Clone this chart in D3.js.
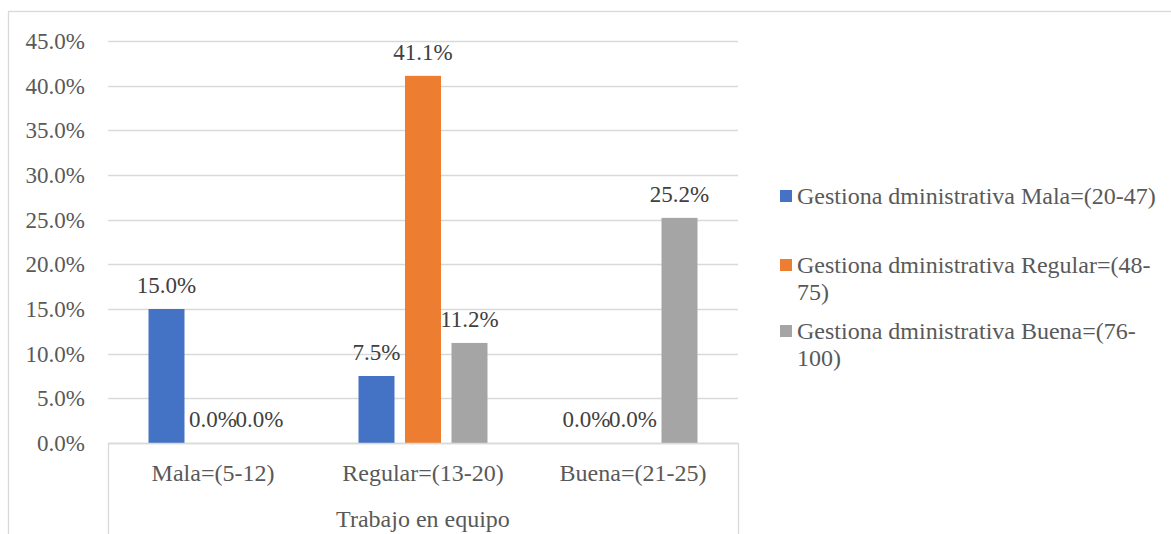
<!DOCTYPE html>
<html>
<head>
<meta charset="utf-8">
<style>
  body { margin: 0; background: #fff; }
  text { font-family: "Liberation Serif", "Times New Roman", serif; }
  .grid line { stroke: #d9d9d9; stroke-width: 1.3px; }
  .tick-label { fill: #595959; font-size: 23px; }
  .cat-label { fill: #595959; font-size: 24px; }
  .bar-label { fill: #404040; font-size: 23px; }
  .legend-text { fill: #595959; font-size: 24px; }
</style>
</head>
<body>
<svg width="1171" height="534"></svg>
<script src="https://d3js.org/d3.v7.min.js"></script>
<script>
// data
var categories = ["Mala=(5-12)", "Regular=(13-20)", "Buena=(21-25)"];
var seriesNames = [
  "Gestiona dministrativa Mala=(20-47)",
  "Gestiona dministrativa Regular=(48-75)",
  "Gestiona dministrativa Buena=(76-100)"
];
var seriesMala    = [15.0, 7.5, 0.0];
var seriesRegular = [0.0, 41.1, 0.0];
var seriesBuena   = [0.0, 11.2, 25.2];
var yTicks = [0, 5, 10, 15, 20, 25, 30, 35, 40, 45];
var axisTitle = "Trabajo en equipo";
var colors = ["#4472C4", "#ED7D31", "#A5A5A5"];

var allSeries = [seriesMala, seriesRegular, seriesBuena];

var svg = d3.select("svg");

// outer chart border
svg.append("rect")
    .attr("x", 8.5).attr("y", 11.5)
    .attr("width", 1300).attr("height", 700)
    .attr("fill", "none").attr("stroke", "#d9d9d9").attr("stroke-width", 1.3);

var plotLeft = 108, plotRight = 738, plotTop = 41, plotBottom = 443;

var y = d3.scaleLinear().domain([0, 45]).range([plotBottom, plotTop]);
var x0 = d3.scaleBand().domain(categories).range([plotLeft, plotRight]);
var x1 = d3.scaleBand().domain(d3.range(seriesNames.length))
    .range([-64.5, 64.5]).paddingInner(0.226);

// gridlines
svg.append("g").attr("class", "grid")
  .selectAll("line")
  .data(yTicks)
  .enter().append("line")
    .attr("x1", plotLeft).attr("x2", plotRight)
    .attr("y1", function(d) { return Math.round(y(d)) + 0.5; })
    .attr("y2", function(d) { return Math.round(y(d)) + 0.5; });

// y labels
svg.append("g")
  .selectAll("text")
  .data(yTicks)
  .enter().append("text")
    .attr("class", "tick-label")
    .attr("x", 85)
    .attr("y", function(d) { return y(d) + 8; })
    .attr("text-anchor", "end")
    .text(function(d) { return d.toFixed(1) + "%"; });

// bars
var groups = svg.append("g")
  .selectAll("g")
  .data(categories)
  .enter().append("g")
    .attr("transform", function(d) { return "translate(" + (x0(d) + x0.bandwidth() / 2) + ",0)"; });

groups.selectAll("rect")
  .data(function(d, i) { return allSeries.map(function(s, j) { return {s: j, v: s[i]}; }); })
  .enter().append("rect")
    .attr("x", function(d) { return x1(d.s); })
    .attr("width", x1.bandwidth())
    .attr("y", function(d) { return y(d.v); })
    .attr("height", function(d) { return plotBottom - y(d.v); })
    .attr("fill", function(d) { return colors[d.s]; });

groups.selectAll("text")
  .data(function(d, i) { return allSeries.map(function(s, j) { return {s: j, v: s[i]}; }); })
  .enter().append("text")
    .attr("class", "bar-label")
    .attr("x", function(d) { return x1(d.s) + x1.bandwidth() / 2; })
    .attr("y", function(d) { return y(d.v) - 16; })
    .attr("text-anchor", "middle")
    .text(function(d) { return d.v.toFixed(1) + "%"; });

// category axis box
var axis = svg.append("g").attr("stroke", "#d9d9d9").attr("stroke-width", 1.3);
axis.append("line").attr("x1", plotLeft).attr("x2", plotRight).attr("y1", plotBottom + 0.5).attr("y2", plotBottom + 0.5);
axis.append("line").attr("x1", plotLeft + 0.5).attr("x2", plotLeft + 0.5).attr("y1", plotBottom).attr("y2", 534);
axis.append("line").attr("x1", plotRight + 0.5).attr("x2", plotRight + 0.5).attr("y1", plotBottom).attr("y2", 534);

svg.append("g")
  .selectAll("text")
  .data(categories)
  .enter().append("text")
    .attr("class", "cat-label")
    .attr("x", function(d) { return x0(d) + x0.bandwidth() / 2; })
    .attr("y", 481)
    .attr("text-anchor", "middle")
    .text(function(d) { return d; });

svg.append("text")
    .attr("class", "cat-label")
    .attr("x", (plotLeft + plotRight) / 2)
    .attr("y", 527)
    .attr("text-anchor", "middle")
    .text(axisTitle);

// legend
var legendY = [204, 273, 339];
var legend = svg.append("g");
seriesNames.forEach(function(name, i) {
  legend.append("rect")
      .attr("x", 780).attr("y", legendY[i] - 14)
      .attr("width", 12).attr("height", 12)
      .attr("fill", colors[i]);
  var t = legend.append("text")
      .attr("class", "legend-text")
      .attr("x", 797).attr("y", legendY[i]);
  // wrap at spaces or after hyphens
  var tokens = name.match(/[^\s-]+-?\s?|\s/g);
  var lines = [], cur = "";
  var probe = t.append("tspan");
  tokens.forEach(function(tok) {
    probe.text(cur + tok);
    if (probe.node().getComputedTextLength() > 368 && cur !== "") {
      lines.push(cur);
      cur = tok;
    } else {
      cur += tok;
    }
  });
  lines.push(cur);
  probe.remove();
  lines.forEach(function(l, k) {
    t.append("tspan").attr("x", 797).attr("dy", k === 0 ? 0 : 26.5).text(l.trim());
  });
});
</script>
</body>
</html>
